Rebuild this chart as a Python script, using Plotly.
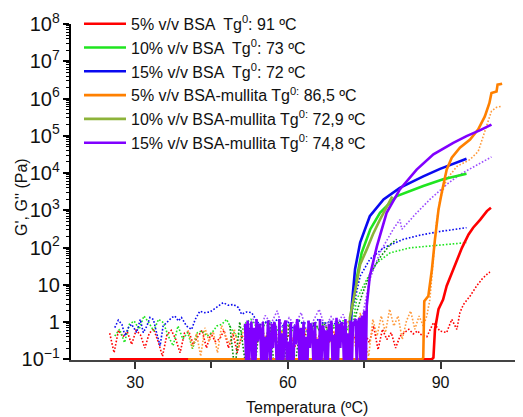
import numpy as np
import plotly.graph_objects as go

# ---------------- data (T in ºC, G in Pa) ----------------
# 5% v/v BSA
red_Gp_T = [25.0, 88.3, 88.6, 88.9, 89.6, 90.5, 91.2, 92.2, 93.2, 94.2, 95.5, 96.4, 97.8, 99.1, 99.9]
red_Gp = [0.1, 0.1, 0.11, 0.63, 2.2, 4.0, 9.3, 21, 48, 98, 224, 340, 560, 950, 1170]
red_Gpp_noise = [0.5, 0.15, 0.6, 0.4, 0.55, 0.25, 0.6, 0.45, 0.2, 0.5, 0.65, 0.3, 0.12, 0.45, 0.6, 0.35,
                 0.15, 0.5, 0.55, 0.25, 0.4, 0.6, 0.2, 0.5, 0.3, 0.35, 0.6, 0.2, 0.5, 0.15, 0.45, 0.3,
                 0.55, 0.2, 0.4, 0.25, 0.5, 0.35, 0.4, 0.6, 0.3, 0.5, 0.2, 0.45, 0.7, 0.3, 0.5, 0.25,
                 0.6, 0.4, 0.3, 0.55, 0.2, 0.5, 0.35, 0.6, 0.3, 0.45, 0.52, 0.28, 0.78, 0.18, 0.64,
                 0.34, 0.52, 0.2, 0.42, 0.52, 0.64, 0.48, 0.58]
red_Gpp_noise_range = (25.0, 85.5)
red_Gpp_T = [86.0, 87.3, 88.6, 89.9, 91.2, 92.2, 93.2, 93.8, 94.5, 95.8, 97.1, 98.1, 99.1, 99.7]
red_Gpp = [0.47, 0.4, 0.96, 0.57, 0.52, 1.18, 0.63, 1.78, 2.96, 5.0, 9.3, 14, 19, 22]

# 10% v/v BSA
green_Gp_T = [26.0, 72.1, 72.35, 73.5, 74.5, 76.2, 78.1, 81.4, 86.6, 90.5, 95.1]
green_Gp = [0.05, 0.05, 1.45, 14, 72, 310, 850, 2400, 4500, 6800, 9600]
green_Gpp_noise = [0.42, 0.64, 0.28, 0.87, 1.06, 0.64, 1.45, 0.96, 0.58, 1.18, 0.96, 0.42, 0.23, 0.78,
                   0.35, 0.52, 0.19, 0.52, 0.58, 0.42, 0.52, 0.78, 0.87, 1.18, 0.64, 0.42, 0.52, 0.96,
                   1.18, 0.78, 0.52, 0.96, 0.6, 0.9, 0.4, 1.0, 0.7, 0.5, 1.1, 0.8, 0.3, 0.9, 0.6, 1.0,
                   0.5, 0.8, 0.7, 1.1, 0.6, 0.9]
green_Gpp_noise_range = (26.0, 72.8)
green_Gpp_T = [73.5, 75.5, 77.5, 80.1, 84.0, 87.9, 95.1]
green_Gpp = [4.0, 14, 39, 72, 98, 109, 135]

# 15% v/v BSA
blue_Gp_T = [27.0, 72.0, 72.55, 73.2, 74.2, 76.1, 78.8, 82.0, 86.6, 89.9, 95.1]
blue_Gp = [0.05, 0.05, 2.7, 26, 135, 690, 1950, 4000, 8100, 12900, 24000]
blue_Gpp_T = [26.0, 26.7, 27.4, 28.0, 28.7, 29.3, 30.3, 31.0, 31.6, 32.3, 32.9, 33.6, 34.2, 34.9, 35.5,
              36.2, 37.2, 37.8, 38.5, 39.1, 40.1, 41.1, 41.8, 42.7, 43.7, 44.7, 45.4, 46.3, 47.3, 48.3,
              49.3, 50.3, 50.9, 51.9, 52.9, 54, 55, 56, 57, 58, 59, 60, 61, 62, 63, 64, 65, 66, 67,
              68, 69, 70, 71, 72, 72.9, 74.2, 76.1, 78.8, 82.7, 86.0, 89.9, 95.1]
blue_Gpp = [0.71, 1.12, 0.87, 0.42, 0.71, 0.87, 0.52, 1.17, 0.52, 0.78, 1.32, 1.17, 0.52, 0.23, 0.78,
            0.95, 1.32, 1.45, 1.07, 1.32, 0.78, 0.63, 1.17, 1.95, 1.78, 1.86, 2.19, 2.57, 3.31, 2.82,
            2.95, 2.45, 1.62, 1.86, 1.78, 1.0, 0.8, 1.1, 0.9, 1.2, 0.8, 1.0, 0.7, 1.1, 0.9, 1.0, 0.8,
            1.2, 0.9, 1.0, 0.85, 1.1, 0.9, 1.0, 2.7, 17, 48, 98, 166, 215, 270, 340]

# 5% v/v BSA-mullita
orange_Gp_T = [40.4, 86.4, 86.6, 86.8, 87.6, 88.3, 88.9, 89.6, 90.2, 91.2, 92.2, 93.8, 95.8, 97.4, 98.7,
               99.6, 100.0, 101.0, 101.2, 102.1]
orange_Gp = [0.1, 0.1, 0.11, 3.6, 5.0, 26, 166, 1050, 2800, 12300, 25700, 48000, 79000, 148000, 331000,
             760000, 1.4e6, 1.55e6, 2.35e6, 2.5e6]
orange_Gpp_noise = [0.6, 0.2, 0.5, 0.12, 0.7, 0.3, 0.55, 0.15, 0.8, 0.4, 0.25, 0.65, 0.2, 0.5, 0.9, 0.3,
                    0.6, 0.45, 0.5, 0.3, 0.7, 0.2, 0.6, 0.4, 0.8, 0.3, 0.5, 0.2, 0.7, 0.4, 0.6, 0.3,
                    0.5, 0.8, 0.3, 0.6, 0.4, 0.7, 1.06, 0.78, 0.18, 1.78, 0.34, 0.12, 1.18, 0.42, 1.45,
                    0.52, 2.2, 0.78, 1.45, 0.34, 1.06, 1.97, 0.64, 1.45, 0.78]
orange_Gpp_noise_range = (40.4, 86.6)
orange_Gpp_T = [87.3, 87.9, 88.6, 89.2, 89.9, 91.2, 93.2, 95.8, 97.4, 98.4, 99.4, 100.0, 101.0, 102.1]
orange_Gpp = [1.45, 4.0, 59, 460, 1950, 6800, 15000, 23000, 38000, 98000, 245000, 457000, 580000, 620000]

# 10% v/v BSA-mullita
olive_Gp_T = [48.0, 72.0, 72.2, 73.2, 74.2, 75.5, 76.7, 78.1, 79.4, 80.5]
olive_Gp = [0.05, 0.05, 1.3, 7.5, 35, 89, 224, 560, 1260, 2340]
olive_Gpp_noise = [0.8, 0.05, 1.0, 0.1, 0.7, 0.05, 0.9, 0.2, 1.1, 0.05, 0.6, 0.1, 0.9, 0.05, 0.5, 0.8,
                   0.4, 1.0, 0.6, 0.9, 0.5, 0.7, 1.0, 0.6, 0.8, 0.9]
olive_Gpp_noise_range = (48.6, 73.0)
olive_Gpp_T = [73.5, 74.6, 76.1, 78.1, 80.1, 81.4]
olive_Gpp = [1.8, 5.5, 19, 54, 120, 166]

# 15% v/v BSA-mullita
purple_Gp_noise = [0.9, 0.05, 1.1, 0.05, 0.5, 1.0, 0.05, 0.7, 0.05, 1.2, 0.3, 0.9, 0.6, 0.05, 1.0, 0.05,
                   0.4, 0.05, 1.1, 0.4, 0.05, 0.9, 0.2, 1.0, 0.7, 0.05, 0.05, 1.2, 0.05, 0.5, 0.05, 0.9,
                   1.1, 0.05, 0.3, 0.05, 1.0, 0.05, 0.05, 0.8, 0.25, 1.2, 0.6, 0.05, 0.7, 0.05, 1.0, 0.05,
                   0.4, 0.05, 1.1, 0.2, 0.9, 0.5, 0.05, 1.0, 0.05, 0.35, 0.05, 1.2, 0.05, 0.8, 0.6, 0.05,
                   0.6, 0.05, 0.9, 0.3, 1.1, 0.05, 0.45, 0.05, 1.3, 0.05, 0.9, 0.2, 1.0, 0.7, 0.05, 1.2,
                   0.05, 0.5, 0.05, 1.1, 0.05, 1.0, 0.8, 1.2, 0.05, 1.0, 1.3, 0.05, 1.5, 0.05, 2.0, 0.05]
purple_Gp_noise_range = (51.6, 75.3)
purple_Gp_T = [75.5, 76.1, 77.5, 79.4, 82.0, 85.3, 88.6, 92.5, 95.1, 97.8, 100.0]
purple_Gp = [2.7, 17, 109, 850, 3630, 12300, 31600, 64600, 98000, 141000, 200000]
purple_Gpp_noise = [0.7, 1.2, 0.5, 1.5, 0.9, 2.0, 0.6, 1.3, 0.8, 1.8, 0.5, 1.1, 2.2, 0.7, 1.4, 0.9, 1.6,
                    0.6, 1.2, 0.8]
purple_Gpp_noise_range = (52.0, 74.4)
purple_Gpp_T = [74.8, 76.1, 78.1, 80.7, 82.0, 82.4, 85.3, 87.9, 91.2, 93.8, 97.1, 100.0]
purple_Gpp = [1.8, 14, 74, 310, 560, 310, 850, 1950, 4900, 9100, 15800, 27000]

names = ["5% v/v BSA  Tg<sup>0</sup>: 91 ºC",
         "10% v/v BSA  Tg<sup>0</sup>: 73 ºC",
         "15% v/v BSA  Tg<sup>0</sup>: 72 ºC",
         "5% v/v BSA-mullita Tg<sup>0:</sup> 86,5 ºC",
         "10% v/v BSA-mullita Tg<sup>0:</sup> 72,9 ºC",
         "15% v/v BSA-mullita Tg<sup>0:</sup> 74,8 ºC"]

C_RED, C_GREEN, C_BLUE = "#FF0000", "#1FE51F", "#0A0AF0"
C_ORANGE, C_OLIVE, C_PURPLE = "#FF8000", "#8DB33A", "#8000FF"
C_ORANGE_D, C_OLIVE_D, C_PURPLE_D = "#FF9A3C", "#0A8A0A", "#9B4DFF"


def with_noise(noise, rng, t, g):
    tn = list(np.linspace(rng[0], rng[1], len(noise)))
    return tn + list(t), list(noise) + list(g)


fig = go.Figure()

def dotted(x, y, color):
    fig.add_trace(go.Scatter(x=x, y=y, mode="lines", showlegend=False, hoverinfo="skip",
                             line=dict(color=color, width=1.6, dash="1.6px,1.8px")))

def solid(x, y, color, name, rank):
    fig.add_trace(go.Scatter(x=x, y=y, mode="lines", name=name, legendrank=rank,
                             legendgroup=str(rank),
                             line=dict(color=color, width=2.6)))

dotted(*with_noise(red_Gpp_noise, red_Gpp_noise_range, red_Gpp_T, red_Gpp), C_RED)
dotted(*with_noise(green_Gpp_noise, green_Gpp_noise_range, green_Gpp_T, green_Gpp), C_GREEN)
dotted(blue_Gpp_T, blue_Gpp, C_BLUE)
dotted(*with_noise(orange_Gpp_noise, orange_Gpp_noise_range, orange_Gpp_T, orange_Gpp), C_ORANGE_D)
dotted(*with_noise(olive_Gpp_noise, olive_Gpp_noise_range, olive_Gpp_T, olive_Gpp), C_OLIVE_D)
dotted(*with_noise(purple_Gpp_noise, purple_Gpp_noise_range, purple_Gpp_T, purple_Gpp), C_PURPLE_D)

solid(red_Gp_T, red_Gp, C_RED, names[0], 1)
solid(green_Gp_T, green_Gp, C_GREEN, names[1], 2)
solid(blue_Gp_T, blue_Gp, C_BLUE, names[2], 3)
solid(olive_Gp_T, olive_Gp, C_OLIVE, names[4], 5)
solid(orange_Gp_T, orange_Gp, C_ORANGE, names[3], 4)
solid(*with_noise(purple_Gp_noise, purple_Gp_noise_range, purple_Gp_T, purple_Gp), C_PURPLE, names[5], 6)

FONT = "Arial, Liberation Sans, sans-serif"

# the page body has an 8 px margin, so the figure is 8 px smaller in each direction
fig.update_layout(
    width=515, height=409,
    margin=dict(l=63, r=1, t=16, b=57, autoexpand=False),
    paper_bgcolor="white", plot_bgcolor="white",
    font=dict(family=FONT, size=16, color="#111"),
    showlegend=True,
    legend=dict(x=8 / 451, y=1.075 - 8 / 336, xanchor="left", yanchor="top", bgcolor="rgba(0,0,0,0)",
                font=dict(size=16, family=FONT, color="#111"), tracegroupgap=0,
                itemwidth=42, traceorder="normal"),
    xaxis=dict(range=[17.4, 106.0], tick0=0, dtick=30, ticks="outside", ticklen=7, tickwidth=1.5,
               tickcolor="#333", showline=True, linecolor="#444", linewidth=2, showgrid=False,
               zeroline=False, layer="below traces",
               tickfont=dict(size=16, family=FONT, color="#111"),
               minor=dict(dtick=15, tick0=0, ticks="outside", ticklen=6, tickcolor="#333", tickwidth=1.5)),
    yaxis=dict(type="log", range=[-1.02, 8.0], dtick=1, exponentformat="power", showexponent="all",
               ticks="outside", ticklen=6, tickwidth=1.5, tickcolor="black", showline=True,
               linecolor="black", linewidth=2, showgrid=False, zeroline=False, layer="below traces",
               tickfont=dict(size=16, family=FONT, color="#111"),
               minor=dict(dtick="D1", ticks="outside", ticklen=3, tickcolor="black", tickwidth=1)),
    annotations=[
        dict(text="Temperatura (ºC)", xref="paper", yref="paper", x=(307 - 71) / 451,
             y=(360 - 407) / 336, xanchor="center", yanchor="middle", showarrow=False,
             font=dict(size=16, family=FONT, color="#111")),
        dict(text="G', G'' (Pa)", xref="paper", yref="paper", x=(22 - 71) / 451,
             y=(360 - 197) / 336, xanchor="center", yanchor="middle", showarrow=False,
             textangle=-90, font=dict(size=16, family=FONT, color="#111")),
    ],
)

fig.write_html("out.html")
